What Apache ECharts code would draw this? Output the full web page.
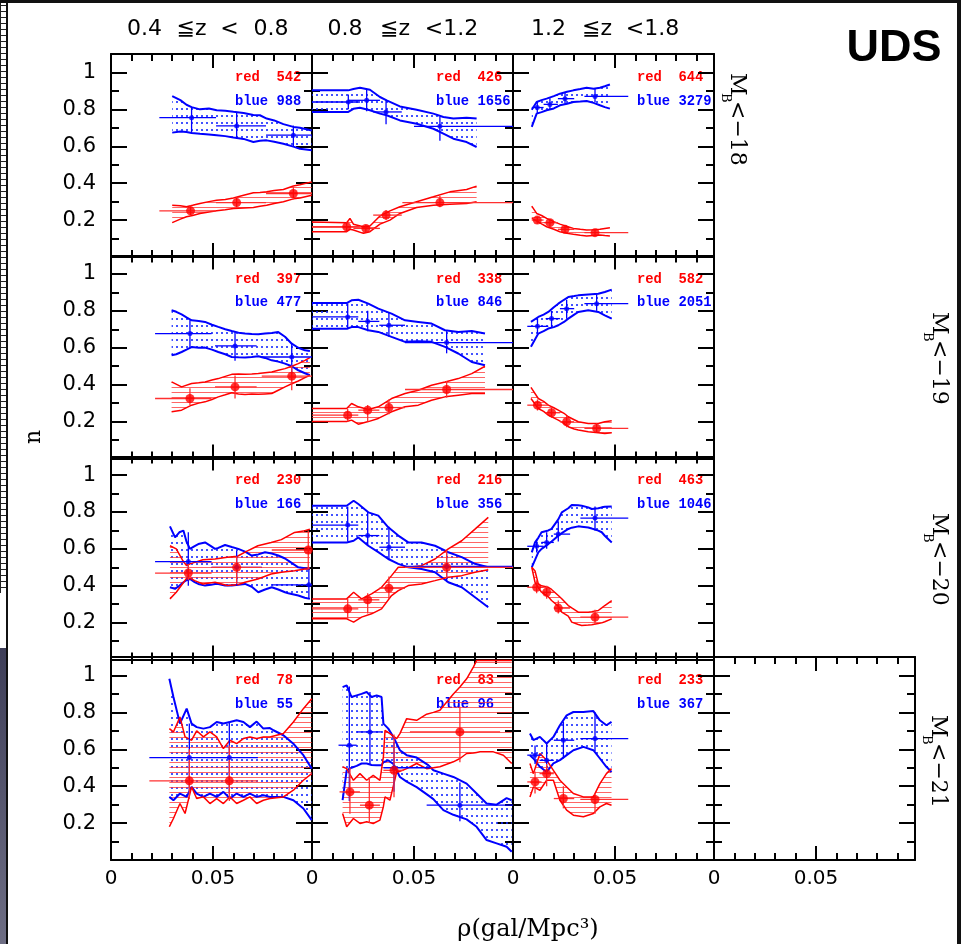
<!DOCTYPE html>
<html><head><meta charset="utf-8">
<script src="https://cdn.jsdelivr.net/npm/echarts@6/dist/echarts.min.js"></script>
<style>html,body{margin:0;padding:0;background:#fff}#c{width:961px;height:944px}</style>
</head><body><div id="c"></div><script>
// ---------------- DATA ----------------
const colTitles = [['0.4','≦z','<','0.8'],['0.8','≦z','<1.2'],['1.2','≦z','<1.8']];
const rowMags = ['18','19','20','21'];
const xTickLabels = ['0','0.05'];
const yTickLabels = ['0.2','0.4','0.6','0.8','1'];
const redCounts  = [[542,426,644],[397,338,582],[230,216,463],[78,83,233]];
const blueCounts = [[988,1656,3279],[477,846,2051],[166,356,1046],[55,96,367]];
// bands: [rho, lower n, upper n];  points: [rho, n, rhoLo, rhoHi, nLo, nHi]
const blueBand11 = [[0.0300,0.674,0.872],[0.0340,0.680,0.850],[0.0370,0.677,0.825],[0.0395,0.672,0.812],[0.0436,0.668,0.800],[0.0480,0.664,0.805],[0.0518,0.660,0.795],[0.0560,0.655,0.793],[0.0600,0.647,0.787],[0.0650,0.640,0.780],[0.0698,0.623,0.770],[0.0730,0.630,0.768],[0.0763,0.632,0.750],[0.0800,0.625,0.740],[0.0845,0.614,0.720],[0.0894,0.598,0.705],[0.0926,0.587,0.700],[0.0984,0.578,0.686]];
const redBand11 = [[0.0300,0.186,0.281],[0.0340,0.205,0.278],[0.0370,0.218,0.272],[0.0400,0.225,0.280],[0.0436,0.236,0.290],[0.0480,0.244,0.300],[0.0518,0.250,0.308],[0.0560,0.256,0.312],[0.0600,0.263,0.320],[0.0650,0.266,0.335],[0.0698,0.268,0.348],[0.0730,0.275,0.350],[0.0763,0.281,0.353],[0.0800,0.290,0.360],[0.0845,0.299,0.366],[0.0894,0.315,0.385],[0.0926,0.320,0.392],[0.0984,0.335,0.407]];
const bluePts11 = [[0.0395,0.755,0.0237,0.0515,0.672,0.812],[0.0616,0.710,0.0515,0.0760,0.644,0.785],[0.0894,0.660,0.0760,0.0985,0.598,0.712]];
const redPts11 = [[0.0390,0.250,0.0237,0.0515,0.225,0.280],[0.0616,0.295,0.0515,0.0760,0.265,0.322],[0.0894,0.344,0.0760,0.0985,0.312,0.382]];

const blueBand12 = [[0,0.786,0.903],[0.0178,0.786,0.903],[0.0203,0.803,0.910],[0.0235,0.809,0.917],[0.0284,0.795,0.906],[0.0333,0.777,0.867],[0.0366,0.768,0.849],[0.0431,0.740,0.816],[0.0513,0.722,0.798],[0.0595,0.695,0.777],[0.0644,0.668,0.759],[0.0693,0.641,0.750],[0.0758,0.623,0.755],[0.0807,0.596,0.750]];
const redBand12 = [[0,0.137,0.190],[0.0170,0.137,0.186],[0.0186,0.150,0.209],[0.0203,0.146,0.178],[0.0252,0.128,0.164],[0.0284,0.137,0.168],[0.0333,0.178,0.222],[0.0382,0.200,0.250],[0.0431,0.236,0.272],[0.0513,0.268,0.299],[0.0595,0.281,0.326],[0.0676,0.286,0.353],[0.0758,0.290,0.366],[0.0807,0.299,0.384]];
const bluePts12 = [[0.0178,0.840,0,0.0235,0.800,0.880],[0.0268,0.849,0.0178,0.0333,0.790,0.910],[0.0363,0.786,0.0300,0.0440,0.720,0.850],[0.0627,0.708,0.0500,0.0985,0.630,0.760]];
const redPts12 = [[0.0170,0.164,0,0.0235,0.140,0.190],[0.0264,0.155,0.0203,0.0333,0.130,0.175],[0.0363,0.227,0.0300,0.0440,0.200,0.255],[0.0627,0.295,0.0443,0.0985,0.270,0.330]];

const blueBand13 = [[0.0092,0.705,0.798],[0.0116,0.777,0.840],[0.0140,0.785,0.850],[0.0165,0.795,0.858],[0.0200,0.805,0.872],[0.0230,0.822,0.885],[0.0265,0.830,0.895],[0.0296,0.840,0.903],[0.0330,0.842,0.910],[0.0361,0.845,0.917],[0.0395,0.835,0.912],[0.0426,0.822,0.917],[0.0450,0.812,0.925],[0.0475,0.804,0.935]];
const redBand13 = [[0.0092,0.209,0.276],[0.0116,0.196,0.236],[0.0140,0.180,0.225],[0.0165,0.164,0.209],[0.0200,0.150,0.192],[0.0230,0.137,0.178],[0.0265,0.128,0.165],[0.0296,0.123,0.155],[0.0330,0.118,0.150],[0.0361,0.114,0.146],[0.0395,0.117,0.148],[0.0426,0.119,0.150],[0.0450,0.116,0.155],[0.0475,0.114,0.159]];
const bluePts13 = [[0.0119,0.810,0.0092,0.0150,0.780,0.840],[0.0181,0.827,0.0150,0.0220,0.800,0.860],[0.0255,0.858,0.0220,0.0300,0.830,0.890],[0.0402,0.870,0.0350,0.0565,0.840,0.910]];
const redPts13 = [[0.0119,0.200,0.0092,0.0150,0.180,0.220],[0.0181,0.186,0.0150,0.0220,0.165,0.205],[0.0255,0.150,0.0220,0.0300,0.130,0.170],[0.0402,0.132,0.0350,0.0565,0.115,0.150]];

const blueBand21 = [[0.0297,0.559,0.803],[0.0320,0.565,0.795],[0.0346,0.577,0.781],[0.0370,0.590,0.765],[0.0395,0.604,0.749],[0.0430,0.600,0.745],[0.0461,0.601,0.740],[0.0495,0.590,0.725],[0.0526,0.577,0.713],[0.0560,0.565,0.700],[0.0592,0.550,0.691],[0.0625,0.548,0.682],[0.0657,0.547,0.677],[0.0690,0.550,0.674],[0.0722,0.554,0.673],[0.0755,0.545,0.677],[0.0788,0.532,0.680],[0.0820,0.525,0.685],[0.0853,0.514,0.660],[0.0886,0.500,0.622],[0.0918,0.478,0.600],[0.0951,0.462,0.586],[0.0975,0.451,0.583]];
const redBand21 = [[0.0297,0.253,0.415],[0.0346,0.262,0.388],[0.0395,0.289,0.406],[0.0430,0.300,0.410],[0.0461,0.307,0.415],[0.0495,0.320,0.425],[0.0526,0.334,0.433],[0.0560,0.345,0.445],[0.0592,0.356,0.456],[0.0625,0.350,0.458],[0.0657,0.347,0.456],[0.0690,0.350,0.458],[0.0722,0.348,0.460],[0.0755,0.350,0.465],[0.0788,0.352,0.469],[0.0820,0.370,0.478],[0.0853,0.388,0.487],[0.0886,0.405,0.500],[0.0918,0.420,0.514],[0.0951,0.438,0.532],[0.0975,0.451,0.547]];
const bluePts21 = [[0.0387,0.677,0.0216,0.0493,0.604,0.749],[0.0608,0.610,0.0510,0.0714,0.530,0.690],[0.0886,0.550,0.0739,0.0985,0.460,0.620]];
const redPts21 = [[0.0387,0.325,0.0216,0.0493,0.290,0.380],[0.0608,0.388,0.0510,0.0714,0.325,0.450],[0.0886,0.446,0.0739,0.0985,0.370,0.505]];

const blueBand22 = [[0,0.703,0.842],[0.0170,0.703,0.842],[0.0194,0.712,0.857],[0.0227,0.712,0.860],[0.0276,0.695,0.839],[0.0325,0.686,0.812],[0.0390,0.659,0.785],[0.0456,0.632,0.749],[0.0521,0.636,0.740],[0.0586,0.632,0.731],[0.0652,0.605,0.695],[0.0717,0.569,0.686],[0.0783,0.523,0.691],[0.0848,0.505,0.677]];
const redBand22 = [[0,0.200,0.271],[0.0170,0.200,0.271],[0.0194,0.208,0.298],[0.0227,0.186,0.280],[0.0276,0.200,0.266],[0.0325,0.217,0.280],[0.0390,0.253,0.325],[0.0456,0.280,0.352],[0.0521,0.289,0.370],[0.0586,0.316,0.397],[0.0652,0.334,0.415],[0.0717,0.343,0.433],[0.0783,0.352,0.460],[0.0848,0.352,0.500]];
const bluePts22 = [[0.0175,0.767,0,0.0227,0.700,0.840],[0.0273,0.743,0.0227,0.0330,0.690,0.800],[0.0377,0.722,0.0330,0.0456,0.660,0.790],[0.0660,0.628,0.0456,0.0985,0.570,0.690]];
const redPts22 = [[0.0175,0.235,0,0.0227,0.200,0.270],[0.0273,0.262,0.0227,0.0330,0.200,0.290],[0.0377,0.276,0.0330,0.0456,0.240,0.320],[0.0660,0.374,0.0456,0.0985,0.330,0.420]];

const blueBand23 = [[0.0088,0.605,0.740],[0.0124,0.677,0.767],[0.0150,0.690,0.780],[0.0173,0.704,0.794],[0.0200,0.712,0.820],[0.0222,0.722,0.839],[0.0250,0.740,0.860],[0.0271,0.758,0.875],[0.0300,0.780,0.880],[0.0320,0.794,0.884],[0.0369,0.803,0.889],[0.0418,0.794,0.893],[0.0450,0.776,0.902],[0.0484,0.758,0.915]];
const redBand23 = [[0.0088,0.325,0.385],[0.0124,0.271,0.325],[0.0150,0.255,0.310],[0.0173,0.235,0.289],[0.0200,0.220,0.275],[0.0222,0.208,0.262],[0.0250,0.190,0.245],[0.0271,0.172,0.226],[0.0300,0.160,0.210],[0.0320,0.154,0.199],[0.0369,0.145,0.190],[0.0418,0.140,0.190],[0.0450,0.136,0.199],[0.0484,0.140,0.204]];
const bluePts23 = [[0.0120,0.716,0.0070,0.0173,0.680,0.760],[0.0189,0.758,0.0160,0.0230,0.710,0.800],[0.0263,0.812,0.0230,0.0300,0.760,0.860],[0.0410,0.839,0.0350,0.0565,0.800,0.890]];
const redPts23 = [[0.0120,0.289,0.0070,0.0173,0.260,0.320],[0.0189,0.248,0.0160,0.0230,0.220,0.280],[0.0263,0.199,0.0230,0.0300,0.170,0.230],[0.0410,0.163,0.0350,0.0565,0.140,0.190]];

const blueBand31 = [[0.0289,0.392,0.722],[0.0314,0.383,0.662],[0.0335,0.400,0.690],[0.0355,0.419,0.699],[0.0370,0.430,0.640],[0.0387,0.437,0.600],[0.0410,0.420,0.615],[0.0428,0.410,0.626],[0.0461,0.401,0.635],[0.0490,0.405,0.615],[0.0510,0.410,0.600],[0.0526,0.410,0.605],[0.0559,0.402,0.621],[0.0592,0.401,0.610],[0.0624,0.405,0.600],[0.0657,0.410,0.585],[0.0690,0.395,0.564],[0.0722,0.365,0.570],[0.0755,0.380,0.582],[0.0788,0.392,0.575],[0.0820,0.380,0.564],[0.0853,0.365,0.548],[0.0869,0.360,0.536],[0.0918,0.347,0.500],[0.0950,0.335,0.495],[0.0975,0.329,0.491]];
const redBand31 = [[0.0289,0.329,0.617],[0.0320,0.365,0.600],[0.0350,0.410,0.540],[0.0370,0.440,0.510],[0.0390,0.440,0.520],[0.0410,0.428,0.527],[0.0450,0.410,0.541],[0.0510,0.419,0.545],[0.0570,0.401,0.554],[0.0620,0.405,0.560],[0.0657,0.419,0.582],[0.0720,0.437,0.617],[0.0785,0.464,0.635],[0.0835,0.473,0.650],[0.0900,0.482,0.689],[0.0950,0.491,0.698],[0.0975,0.491,0.707]];
const bluePts31 = [[0.0379,0.531,0.0216,0.0493,0.400,0.690],[0.0616,0.500,0.0493,0.0739,0.400,0.590],[0.0970,0.405,0.0788,0.0985,0.330,0.490]];
const redPts31 = [[0.0379,0.469,0.0216,0.0493,0.430,0.520],[0.0616,0.500,0.0493,0.0739,0.410,0.560],[0.0967,0.594,0.0788,0.0985,0.490,0.700]];

const blueBand32 = [[0,0.635,0.834],[0.0170,0.635,0.834],[0.0204,0.644,0.861],[0.0227,0.662,0.843],[0.0276,0.617,0.798],[0.0325,0.582,0.780],[0.0374,0.545,0.717],[0.0423,0.519,0.672],[0.0472,0.500,0.635],[0.0537,0.491,0.635],[0.0603,0.473,0.617],[0.0668,0.419,0.582],[0.0734,0.392,0.555],[0.0799,0.338,0.519],[0.0864,0.284,0.500]];
const redBand32 = [[0,0.221,0.329],[0.0170,0.221,0.329],[0.0204,0.203,0.365],[0.0243,0.230,0.329],[0.0292,0.248,0.356],[0.0341,0.275,0.392],[0.0390,0.347,0.455],[0.0423,0.374,0.500],[0.0472,0.401,0.500],[0.0537,0.410,0.509],[0.0603,0.428,0.545],[0.0668,0.446,0.600],[0.0734,0.455,0.644],[0.0799,0.473,0.707],[0.0864,0.487,0.771]];
const bluePts32 = [[0.0175,0.729,0,0.0227,0.640,0.830],[0.0273,0.672,0.0227,0.0330,0.620,0.800],[0.0377,0.609,0.0330,0.0456,0.540,0.720],[0.0660,0.505,0.0456,0.0985,0.420,0.580]];
const redPts32 = [[0.0175,0.275,0,0.0227,0.220,0.330],[0.0273,0.324,0.0227,0.0330,0.250,0.360],[0.0377,0.387,0.0330,0.0456,0.330,0.450],[0.0660,0.500,0.0456,0.0985,0.440,0.590]];

const blueBand33 = [[0.0092,0.500,0.581],[0.0108,0.540,0.635],[0.0124,0.581,0.660],[0.0140,0.600,0.690],[0.0173,0.626,0.700],[0.0189,0.640,0.708],[0.0222,0.671,0.760],[0.0239,0.685,0.798],[0.0271,0.708,0.820],[0.0288,0.715,0.838],[0.0320,0.722,0.836],[0.0337,0.720,0.834],[0.0369,0.716,0.825],[0.0386,0.710,0.816],[0.0418,0.699,0.820],[0.0435,0.690,0.825],[0.0450,0.671,0.828],[0.0484,0.635,0.830]];
const redBand33 = [[0.0092,0.500,0.500],[0.0108,0.419,0.480],[0.0124,0.390,0.410],[0.0140,0.365,0.400],[0.0173,0.340,0.392],[0.0189,0.320,0.380],[0.0222,0.290,0.347],[0.0239,0.257,0.330],[0.0271,0.235,0.293],[0.0288,0.203,0.280],[0.0320,0.190,0.257],[0.0337,0.185,0.257],[0.0369,0.187,0.257],[0.0386,0.189,0.260],[0.0418,0.195,0.266],[0.0435,0.199,0.280],[0.0450,0.205,0.293],[0.0484,0.221,0.320]];
const bluePts33 = [[0.0116,0.614,0.0070,0.0150,0.580,0.650],[0.0165,0.635,0.0140,0.0200,0.600,0.690],[0.0222,0.680,0.0200,0.0280,0.640,0.750],[0.0402,0.767,0.0330,0.0565,0.700,0.830]];
const redPts33 = [[0.0116,0.392,0.0070,0.0150,0.360,0.430],[0.0165,0.365,0.0140,0.0200,0.330,0.400],[0.0222,0.279,0.0200,0.0280,0.250,0.320],[0.0402,0.230,0.0330,0.0565,0.190,0.270]];

const blueBand41 = [[0.0286,0.342,0.982],[0.0306,0.324,0.883],[0.0338,0.360,0.739],[0.0371,0.342,0.820],[0.0395,0.396,0.739],[0.0420,0.360,0.720],[0.0453,0.342,0.712],[0.0485,0.360,0.720],[0.0518,0.342,0.748],[0.0551,0.369,0.740],[0.0583,0.333,0.748],[0.0616,0.360,0.757],[0.0649,0.342,0.748],[0.0681,0.360,0.720],[0.0714,0.342,0.750],[0.0747,0.351,0.712],[0.0779,0.342,0.715],[0.0796,0.342,0.703],[0.0845,0.342,0.676],[0.0894,0.324,0.630],[0.0943,0.279,0.568],[0.0984,0.216,0.495]];
const redBand41 = [[0.0286,0.180,0.712],[0.0306,0.225,0.694],[0.0338,0.306,0.775],[0.0363,0.252,0.667],[0.0395,0.396,0.649],[0.0420,0.333,0.700],[0.0453,0.342,0.667],[0.0485,0.306,0.694],[0.0518,0.333,0.667],[0.0551,0.306,0.604],[0.0583,0.342,0.649],[0.0616,0.306,0.631],[0.0649,0.324,0.658],[0.0681,0.342,0.667],[0.0714,0.306,0.658],[0.0747,0.324,0.667],[0.0779,0.333,0.667],[0.0845,0.342,0.685],[0.0894,0.378,0.748],[0.0943,0.432,0.820],[0.0984,0.468,0.874]];
const bluePts41 = [[0.0384,0.555,0.0188,0.0500,0.360,0.740],[0.0580,0.555,0.0500,0.0720,0.360,0.750]];
const redPts41 = [[0.0384,0.429,0.0188,0.0500,0.330,0.600],[0.0580,0.429,0.0500,0.0720,0.320,0.620]];

const blueBand42 = [[0.0150,0.324,0.937],[0.0170,0.486,0.946],[0.0194,0.500,0.883],[0.0219,0.510,0.892],[0.0243,0.523,0.900],[0.0268,0.523,0.910],[0.0292,0.515,0.883],[0.0317,0.514,0.892],[0.0341,0.514,0.883],[0.0350,0.530,0.739],[0.0374,0.540,0.712],[0.0399,0.520,0.667],[0.0431,0.450,0.595],[0.0464,0.425,0.568],[0.0513,0.395,0.555],[0.0570,0.350,0.514],[0.0595,0.330,0.486],[0.0644,0.270,0.468],[0.0693,0.245,0.450],[0.0758,0.220,0.414],[0.0807,0.180,0.360],[0.0856,0.108,0.306],[0.0905,0.090,0.300],[0.0954,0.072,0.335],[0.0979,0.045,0.324]];
const redBand42 = [[0.0150,0.252,0.505],[0.0170,0.180,0.495],[0.0203,0.225,0.432],[0.0235,0.198,0.468],[0.0268,0.207,0.432],[0.0300,0.198,0.459],[0.0333,0.216,0.432],[0.0350,0.290,0.560],[0.0358,0.342,0.703],[0.0382,0.324,0.685],[0.0415,0.477,0.658],[0.0431,0.480,0.685],[0.0464,0.495,0.766],[0.0513,0.523,0.757],[0.0562,0.495,0.790],[0.0595,0.500,0.800],[0.0627,0.505,0.811],[0.0693,0.532,0.900],[0.0725,0.550,0.937],[0.0758,0.577,0.982],[0.0791,0.580,1.045],[0.0807,0.583,1.081],[0.0824,0.586,1.081],[0.0889,0.586,1.081],[0.0938,0.568,1.081],[0.0979,0.523,1.081]];
const bluePts42 = [[0.0183,0.622,0.0130,0.0219,0.320,0.940],[0.0284,0.694,0.0219,0.0341,0.520,0.910],[0.0402,0.500,0.0350,0.0578,0.370,0.640],[0.0725,0.297,0.0562,0.0985,0.210,0.420]];
const redPts42 = [[0.0186,0.369,0.0135,0.0235,0.250,0.500],[0.0281,0.297,0.0235,0.0333,0.200,0.450],[0.0402,0.486,0.0350,0.0450,0.340,0.680],[0.0725,0.694,0.0480,0.0922,0.530,0.830]];

const blueBand43 = [[0.0083,0.568,0.685],[0.0100,0.550,0.650],[0.0132,0.505,0.667],[0.0165,0.477,0.631],[0.0198,0.523,0.667],[0.0230,0.541,0.730],[0.0263,0.568,0.784],[0.0296,0.595,0.802],[0.0345,0.613,0.802],[0.0394,0.595,0.807],[0.0426,0.550,0.757],[0.0458,0.505,0.730],[0.0483,0.477,0.748]];
const redBand43 = [[0.0083,0.342,0.523],[0.0100,0.396,0.468],[0.0132,0.378,0.577],[0.0165,0.432,0.541],[0.0198,0.432,0.486],[0.0230,0.324,0.432],[0.0263,0.270,0.396],[0.0296,0.243,0.360],[0.0345,0.234,0.342],[0.0394,0.252,0.342],[0.0426,0.288,0.414],[0.0458,0.306,0.468],[0.0483,0.297,0.495]];
const bluePts43 = [[0.0108,0.568,0.0070,0.0140,0.520,0.620],[0.0165,0.540,0.0130,0.0200,0.480,0.630],[0.0247,0.649,0.0200,0.0300,0.550,0.750],[0.0402,0.658,0.0330,0.0565,0.590,0.800]];
const redPts43 = [[0.0108,0.423,0.0070,0.0140,0.360,0.480],[0.0165,0.468,0.0130,0.0200,0.400,0.520],[0.0247,0.333,0.0200,0.0300,0.280,0.400],[0.0402,0.328,0.0330,0.0565,0.250,0.360]];

// ---------------- LAYOUT ----------------
const COL_LEFT = [111, 312, 513, 714];
const ROW_TOP = [54, 255.5, 456.6, 657];
const W = 201, H = 203;
const XMAX = 201 / 2040, YMAX = 1.1;
const BLUE = '#0000ff', RED = '#ff0000';

function mkCanvas(w, h, draw) {
  const c = document.createElement('canvas'); c.width = w; c.height = h;
  draw(c.getContext('2d')); return c;
}
const BLUE_FILL = {image: mkCanvas(5, 7, g => { g.fillStyle = 'rgba(20,40,255,0.8)'; g.fillRect(1, 3, 2, 2); }), repeat: 'repeat'};
const RED_FILL = {image: mkCanvas(8, 5, g => { g.fillStyle = 'rgba(255,50,50,0.75)'; g.fillRect(0, 2, 8, 1); }), repeat: 'repeat'};
const LADDER = {image: mkCanvas(7, 6, g => { g.fillStyle = '#fff'; g.fillRect(0, 0, 7, 6); g.fillStyle = '#222'; g.fillRect(0, 5, 7, 1); g.fillRect(0, 0, 1, 6); }), repeat: 'repeat'};

const panels = [
  {r:0,c:0,bb:blueBand11,rb:redBand11,bp:bluePts11,rp:redPts11},
  {r:0,c:1,bb:blueBand12,rb:redBand12,bp:bluePts12,rp:redPts12},
  {r:0,c:2,bb:blueBand13,rb:redBand13,bp:bluePts13,rp:redPts13},
  {r:1,c:0,bb:blueBand21,rb:redBand21,bp:bluePts21,rp:redPts21},
  {r:1,c:1,bb:blueBand22,rb:redBand22,bp:bluePts22,rp:redPts22},
  {r:1,c:2,bb:blueBand23,rb:redBand23,bp:bluePts23,rp:redPts23},
  {r:2,c:0,bb:blueBand31,rb:redBand31,bp:bluePts31,rp:redPts31},
  {r:2,c:1,bb:blueBand32,rb:redBand32,bp:bluePts32,rp:redPts32},
  {r:2,c:2,bb:blueBand33,rb:redBand33,bp:bluePts33,rp:redPts33},
  {r:3,c:0,bb:blueBand41,rb:redBand41,bp:bluePts41,rp:redPts41},
  {r:3,c:1,bb:blueBand42,rb:redBand42,bp:bluePts42,rp:redPts42},
  {r:3,c:2,bb:blueBand43,rb:redBand43,bp:bluePts43,rp:redPts43},
  {r:3,c:3}
];

const tickStyle = {color:'#000', width:2};
function xAxisDef(i, pos, showLab) {
  return {type:'value', gridIndex:i, position:pos, min:0, max:XMAX, interval:0.05,
    axisLine:{show:true, onZero:false, lineStyle:{color:'#000', width:2}},
    axisTick:{show:true, inside:true, length:14, lineStyle:tickStyle},
    minorTick:{show:true, splitNumber:5, length:7, lineStyle:tickStyle},
    splitLine:{show:false}, minorSplitLine:{show:false},
    axisLabel:{show:showLab, margin:9, color:'#000', fontSize:20, fontFamily:'DejaVu Sans',
      formatter: v => Math.abs(v) < 1e-9 ? xTickLabels[0] : (Math.abs(v - 0.05) < 1e-9 ? xTickLabels[1] : '')}};
}
function yAxisDef(i, pos, showLab) {
  return {type:'value', gridIndex:i, position:pos, min:0, max:YMAX, interval:0.2,
    axisLine:{show:true, onZero:false, lineStyle:{color:'#000', width:2}},
    axisTick:{show:true, inside:true, length:16, lineStyle:tickStyle},
    minorTick:{show:true, splitNumber:2, length:8, lineStyle:tickStyle},
    splitLine:{show:false}, minorSplitLine:{show:false},
    axisLabel:{show:showLab, margin:15, color:'#000', fontSize:21, fontFamily:'DejaVu Sans',
      formatter: v => { const k = Math.round(v / 0.2) - 1; return (Math.abs(v / 0.2 - Math.round(v / 0.2)) < 1e-6 && k >= 0 && k < yTickLabels.length) ? yTickLabels[k] : ''; }}};
}
function bandFill(ax, band, fill, z) {
  return Object.assign({type:'custom', z:z, silent:true, data:[[band[0][0], band[0][1]]],
    renderItem: (params, api) => {
      const pts = band.map(d => api.coord([d[0], d[1]]));
      for (let k = band.length - 1; k >= 0; k--) pts.push(api.coord([band[k][0], band[k][2]]));
      return {type:'polygon', shape:{points:pts}, style:{fill:fill}};
    }}, ax);
}
function edge(ax, band, k, color, w) {
  return Object.assign({type:'line', z:3, silent:true, symbol:'none', data: band.map(d => [d[0], d[k]]),
    lineStyle:{color:color, width:w}}, ax);
}
function errBars(ax, pts, color, w) {
  return Object.assign({type:'custom', z:4, silent:true, data: pts,
    renderItem: (params, api) => {
      const x = api.value(0), y = api.value(1);
      const a = api.coord([api.value(2), y]), b = api.coord([api.value(3), y]);
      const c = api.coord([x, api.value(4)]), d = api.coord([x, api.value(5)]);
      return {type:'group', children:[
        {type:'line', shape:{x1:a[0], y1:a[1], x2:b[0], y2:b[1]}, style:{stroke:color, lineWidth:w}},
        {type:'line', shape:{x1:c[0], y1:c[1], x2:d[0], y2:d[1]}, style:{stroke:color, lineWidth:w}}]};
    }}, ax);
}
function points(ax, pts, color, size) {
  return Object.assign({type:'scatter', z:5, silent:true, symbol:'circle', symbolSize:size,
    data: pts.map(d => [d[0], d[1]]), itemStyle:{color:color}}, ax);
}

const opt = {animation:false, backgroundColor:'#fff', grid:[], xAxis:[], yAxis:[], series:[]};
const els = [];
panels.forEach((p, i) => {
  opt.grid.push({left:COL_LEFT[p.c], top:ROW_TOP[p.r], width:W, height:H});
  opt.xAxis.push(xAxisDef(i, 'bottom', p.r === 3), xAxisDef(i, 'top', false));
  opt.yAxis.push(yAxisDef(i, 'left', p.c === 0), yAxisDef(i, 'right', false));
  if (!p.bb) return;
  const ax = {xAxisIndex:2 * i, yAxisIndex:2 * i};
  opt.series.push(bandFill(ax, p.bb, BLUE_FILL, 1), bandFill(ax, p.rb, RED_FILL, 2));
  opt.series.push(edge(ax, p.bb, 1, BLUE, 2), edge(ax, p.bb, 2, BLUE, 2), edge(ax, p.rb, 1, RED, 1.5), edge(ax, p.rb, 2, RED, 1.5));
  opt.series.push(errBars(ax, p.bp, BLUE, 1.3), errBars(ax, p.rp, '#ff3030', 1.3));
  opt.series.push(points(ax, p.bp, BLUE, 5), points(ax, p.rp, RED, 9));
  const lx = COL_LEFT[p.c] + 124, ty = ROW_TOP[p.r];
  els.push({type:'text', x:lx, y:ty + 24, silent:true, style:{text:'red'.padEnd(5) + redCounts[p.r][p.c], fill:RED, font:'bold 13.8px "Liberation Mono"', align:'left', verticalAlign:'middle'}});
  els.push({type:'text', x:lx, y:ty + 47.5, silent:true, style:{text:'blue'.padEnd(5) + blueCounts[p.r][p.c], fill:BLUE, font:'bold 13.8px "Liberation Mono"', align:'left', verticalAlign:'middle'}});
});

// column titles
const titleX = [[144.5, 191.5, 229.5, 271], [345, 395, 451.5], [548.5, 597, 652.5]];
colTitles.forEach((parts, c) => parts.forEach((t, k) => els.push({type:'text', x:titleX[c][k], y:29, silent:true,
  style:{text:t, fill:'#000', font:'22px "DejaVu Sans"', align:'center', verticalAlign:'middle'}})));
// row labels
const rowLab = [[737, 73], [939, 312], [939, 513], [938, 715]];
function rotText(t, x, y, size) {
  return {type:'text', x:x, y:y, rotation:-Math.PI / 2, silent:true,
    style:{text:t, fill:'#000', font:size + 'px "DejaVu Serif"', align:'left', verticalAlign:'middle'}};
}
rowMags.forEach((m, r) => {
  const [x, s] = rowLab[r];
  els.push(rotText('M', x, s, 22), rotText('B', x - 12, s + 20, 13), rotText('<\u2212' + m, x, s + 28, 22));
});
els.push({type:'text', x:894, y:49, silent:true, style:{text:'UDS', fill:'#000', font:'bold 45px "Liberation Sans"', align:'center', verticalAlign:'middle'}});
els.push({type:'text', x:34, y:437, rotation:Math.PI / 2, silent:true, style:{text:'n', fill:'#000', font:'22px "DejaVu Serif"', align:'center', verticalAlign:'middle'}});
els.push({type:'text', x:528, y:930, silent:true, style:{text:'\u03c1(gal/Mpc\u00b3)', fill:'#000', font:'24px "DejaVu Serif"', align:'center', verticalAlign:'middle'}});
// frame decorations
els.push({type:'rect', silent:true, shape:{x:0, y:0, width:961, height:3}, style:{fill:'#111'}});
els.push({type:'rect', silent:true, shape:{x:0, y:3, width:6, height:590}, style:{fill:LADDER}});
els.push({type:'rect', silent:true, shape:{x:0, y:648, width:6, height:296}, style:{fill:new echarts.graphic.LinearGradient(0, 0, 0, 1, [{offset:0, color:'#3e3e58'}, {offset:1, color:'#6e6e84'}])}});
els.push({type:'rect', silent:true, shape:{x:6, y:0, width:2, height:944}, style:{fill:'#111'}});
els.push({type:'rect', silent:true, shape:{x:957, y:0, width:4, height:944}, style:{fill:'#111'}});
opt.graphic = {elements: els};

const chart = echarts.init(document.getElementById('c'), null, {renderer:'canvas'});
chart.setOption(opt);
</script></body></html>
